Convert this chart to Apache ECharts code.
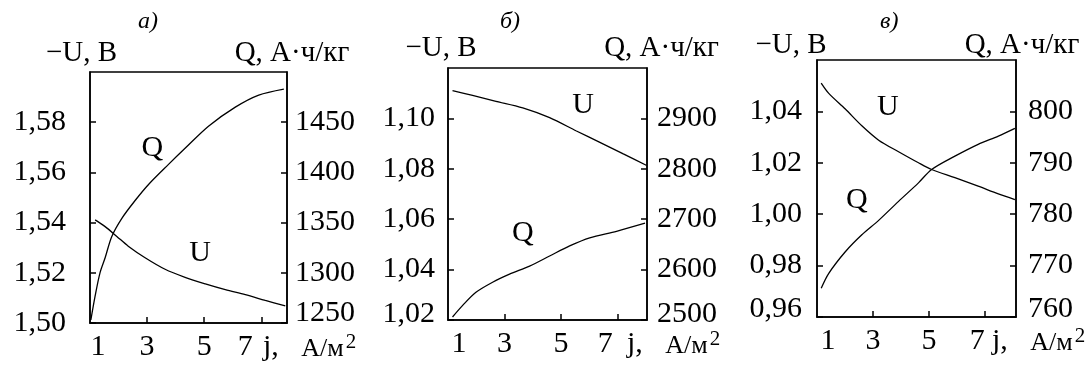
<!DOCTYPE html>
<html>
<head>
<meta charset="utf-8">
<script src="https://cdn.jsdelivr.net/npm/echarts@6/dist/echarts.min.js"></script>
<style>
  html, body { margin: 0; padding: 0; background: #fff; }
  #chart { width: 1089px; height: 365px; }
</style>
</head>
<body>
<div id="chart"></div>
<script>
// панель а)
var jA_U = [1.18, 1.53, 1.94, 2.34, 2.93, 3.63, 4.33, 5.04, 5.74, 6.44, 7.14, 7.84];
var uA = [1.5411, 1.5384, 1.5345, 1.5306, 1.526, 1.5214, 1.5182, 1.5156, 1.5133, 1.5113, 1.509, 1.5068];
var jA_Q = [1.03, 1.18, 1.35, 1.53, 1.76, 2.11, 2.58, 3.05, 3.75, 4.33, 5.15, 6.09, 6.91, 7.79];
var qA = [1253, 1277, 1300, 1315, 1336, 1354, 1372, 1388, 1408, 1424, 1446, 1465, 1477, 1483];

// панель б)
var jB_U = [1.16, 1.87, 2.70, 3.65, 4.60, 5.55, 6.38, 7.21, 8.04];
var uB = [1.111, 1.1091, 1.1068, 1.1042, 1.1003, 1.095, 1.0905, 1.0859, 1.0813];
var jB_Q = [1.16, 1.52, 1.99, 2.58, 3.18, 3.89, 4.60, 5.31, 6.02, 6.97, 7.98];
var qB = [2506, 2529, 2555, 2575, 2591, 2607, 2627, 2647, 2663, 2676, 2692];

// панель в)
var jC = [1.15, 1.42, 2.01, 2.60, 3.20, 3.91, 4.62, 5.09, 5.92, 6.75, 7.47, 8.06];
var uC = [1.051, 1.047, 1.0409, 1.0344, 1.0288, 1.0243, 1.020, 1.0174, 1.0142, 1.0109, 1.0079, 1.0057];
var qC = [765.6, 768.5, 772.7, 776.0, 778.8, 782.5, 786.1, 788.7, 791.3, 793.6, 795.2, 796.7];

var xLabels = [1, 3, 5, 7];
var xTicks = [3, 5, 7];
var panelTitles = ['а)', 'б)', 'в)'];

var FONT = 'Liberation Serif';
var FS = 30;

function pairs(xs, ys) {
  return xs.map(function (x, i) { return [x, ys[i]]; });
}

// параметры раскладки панелей
var panels = [
  { left: 90, top: 72, width: 197, height: 251, xmax: 7.9,
    u: [1.50, 1.60, 0.02], q: [1250, 1500, 50],
    lm: 24, rm: 8, lUp: 0, rUp: 20, one: 16, seven: 32, jGap: -24,
    uName: [0, 17, 0, 0], qName: [0, 0, 0, 10], nGap: 4, titleX: 133 },
  { left: 448, top: 68, width: 199, height: 252, xmax: 8.05,
    u: [1.02, 1.12, 0.02], q: [2500, 3000, 100],
    lm: 13, rm: 10, lUp: 12, rUp: 12, one: 22, seven: 24, jGap: -20,
    uName: [0, 14, 0, 0], qName: [0, 0, 0, 29], nGap: 5, titleX: 495 },
  { left: 817, top: 60, width: 199, height: 257, xmax: 8.1,
    u: [0.96, 1.06, 0.02], q: [760, 810, 10],
    lm: 15, rm: 12, lUp: 16, rUp: 16, one: 22, seven: 16, jGap: -24,
    uName: [0, 52, 0, 0], qName: [0, 0, 0, 12], nGap: 0, titleX: 875 }
];

var grids = [], xAxes = [], yAxes = [], titles = [];

panels.forEach(function (p, k) {
  grids.push({ left: p.left, top: p.top, width: p.width, height: p.height,
    show: true, borderColor: '#000', borderWidth: 1.5, backgroundColor: 'transparent' });

  titles.push({ text: panelTitles[k], left: p.titleX, top: 5,
    textStyle: { fontFamily: FONT, fontStyle: 'italic', fontWeight: 'normal', fontSize: 24, color: '#000' } });

  xAxes.push({
    type: 'value', gridIndex: k, min: 1, max: p.xmax,
    splitLine: { show: false },
    axisLine: { lineStyle: { color: '#000', width: 1.5 } },
    axisTick: { inside: true, length: 6, customValues: xTicks, lineStyle: { color: '#000', width: 1.5 } },
    axisLabel: {
      customValues: xLabels, margin: 9,
      fontFamily: FONT, fontSize: FS, color: '#000',
      formatter: function (v) {
        if (v === 1) return '{a|1}';
        if (v === 7) return '{b|7}';
        return String(v);
      },
      rich: {
        a: { fontFamily: FONT, fontSize: FS, color: '#000', padding: [0, 0, 0, p.one] },
        b: { fontFamily: FONT, fontSize: FS, color: '#000', padding: [0, p.seven, 0, 0] }
      }
    },
    name: 'j,   {u|А/м}{s|2}', nameLocation: 'end', nameGap: p.jGap,
    nameMoveOverlap: false,
    nameTextStyle: {
      fontFamily: FONT, fontSize: FS, color: '#000', align: 'left',
      padding: [48, 0, 0, 0],
      rich: {
        u: { fontFamily: FONT, fontSize: 26, color: '#000', verticalAlign: 'bottom' },
        s: { fontFamily: FONT, fontSize: 21, color: '#000', verticalAlign: 'top', padding: [0, 0, 0, 2] }
      }
    }
  });

  function yAxis(r, pos, margin, up, namePad) {
    return {
      type: 'value', gridIndex: k, position: pos,
      min: r[0], max: r[1], interval: r[2],
      splitLine: { show: false },
      axisLine: { show: true, lineStyle: { color: '#000', width: 1.5 } },
      axisTick: { show: true, inside: true, length: 6, lineStyle: { color: '#000', width: 1.5 } },
      axisLabel: {
        showMaxLabel: false, margin: margin,
        fontFamily: FONT, fontSize: FS, color: '#000',
        formatter: function (v, i) {
          var s = r[2] < 1 ? v.toFixed(2).replace('.', ',') : String(Math.round(v));
          return i === 0 && up ? '{m|' + s + '}' : s;
        },
        rich: { m: { fontFamily: FONT, fontSize: FS, color: '#000', padding: [0, 0, up, 0] } }
      },
      name: pos === 'left' ? '−U, В' : 'Q, А·ч/кг',
      nameLocation: 'end', nameGap: p.nGap, nameMoveOverlap: false,
      nameTextStyle: { fontFamily: FONT, fontSize: 29, color: '#000', padding: namePad }
    };
  }
  yAxes.push(yAxis(p.u, 'left', p.lm, p.lUp, p.uName));
  yAxes.push(yAxis(p.q, 'right', p.rm, p.rUp, p.qName));
});

function line(k, isQ, data, labelCoord, txt) {
  return {
    type: 'line', xAxisIndex: k, yAxisIndex: k * 2 + (isQ ? 1 : 0),
    data: data, smooth: 0.3, showSymbol: false, silent: true,
    lineStyle: { color: '#000', width: 1.3 },
    markPoint: {
      symbol: 'circle', symbolSize: 0, silent: true,
      label: { show: true, position: 'inside', formatter: txt,
        fontFamily: FONT, fontSize: FS, color: '#000' },
      data: [{ coord: labelCoord }]
    }
  };
}

var series = [
  line(0, false, pairs(jA_U, uA), [4.86, 1.5278], 'U'),
  line(0, true, pairs(jA_Q, qA), [3.18, 1424], 'Q'),
  line(1, false, pairs(jB_U, uB), [5.79, 1.1051], 'U'),
  line(1, true, pairs(jB_Q, qB), [3.65, 2672], 'Q'),
  line(2, false, pairs(jC, uC), [3.53, 1.0417], 'U'),
  line(2, true, pairs(jC, qC), [2.42, 782.8], 'Q')
];

var chart = echarts.init(document.getElementById('chart'), null, { renderer: 'canvas' });
chart.setOption({
  backgroundColor: '#fff',
  animation: false,
  title: titles,
  grid: grids,
  xAxis: xAxes,
  yAxis: yAxes,
  series: series
});
</script>
</body>
</html>
